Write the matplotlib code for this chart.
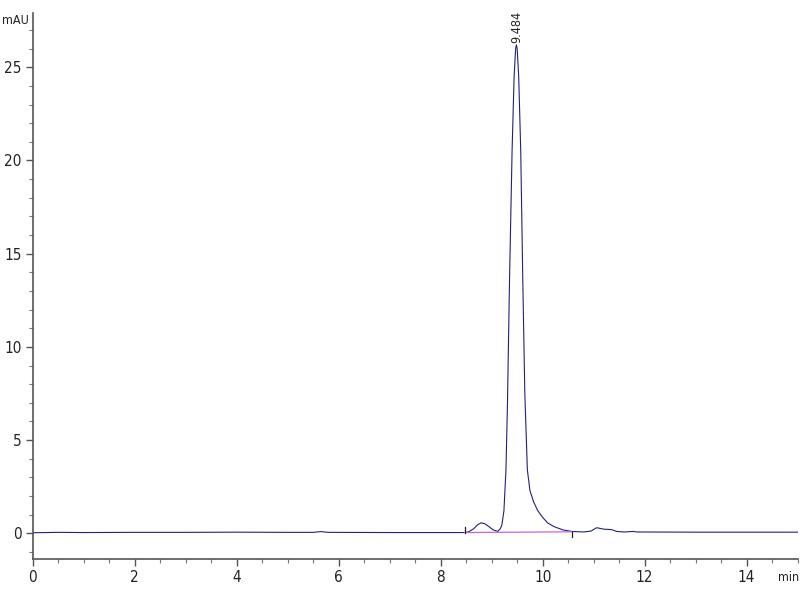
import matplotlib
matplotlib.use("Agg")
import matplotlib.pyplot as plt
from matplotlib.ticker import MultipleLocator

plt.rcParams['font.family'] = ['DejaVu Sans']
plt.rcParams['font.stretch'] = 'condensed'

# signal (min, mAU)
time = [0.0, 0.5, 1.0, 2.0, 3.0, 4.0, 5.0, 5.5, 5.65, 5.8, 7.0, 8.0, 8.47,
        8.55, 8.65, 8.72, 8.79, 8.86, 8.95, 9.03, 9.12, 9.17, 9.20, 9.24,
        9.28, 9.31, 9.35, 9.40, 9.44, 9.47, 9.484, 9.50, 9.53, 9.57, 9.61,
        9.65, 9.70, 9.75, 9.82, 9.90, 10.0, 10.1, 10.23, 10.4, 10.57, 10.8,
        10.95, 11.06, 11.2, 11.35, 11.45, 11.6, 11.78, 11.85, 13.0, 15.0]
signal = [0.03, 0.05, 0.04, 0.05, 0.05, 0.06, 0.05, 0.05, 0.09, 0.05, 0.04, 0.04, 0.04,
          0.08, 0.25, 0.45, 0.56, 0.52, 0.35, 0.18, 0.10, 0.25, 0.45, 1.2,
          3.4, 7.0, 13.6, 20.5, 24.5, 26.0, 26.2, 26.0, 24.5, 20.5, 13.6,
          7.5, 3.4, 2.3, 1.7, 1.23, 0.85, 0.55, 0.35, 0.18, 0.10, 0.07,
          0.12, 0.30, 0.22, 0.20, 0.10, 0.07, 0.10, 0.07, 0.06, 0.06]

peak_rt = 9.484
base_t = [8.47, 10.57]
base_v = [0.04, 0.08]

fig = plt.figure(figsize=(8, 6), dpi=100)
ax = fig.add_axes([0.041, 0.068, 0.956, 0.91])

ax.plot(time, signal, color='#22227a', lw=0.8)
ax.plot(base_t, base_v, color='#c866d8', lw=0.9)
ax.plot([base_t[0], base_t[0]], [0.04, 0.35], color='#222', lw=0.9)
ax.plot([base_t[1], base_t[1]], [-0.2, 0.08], color='#222', lw=0.9)

ax.text(peak_rt, 26.3, '9.484', rotation=90, ha='center', va='bottom',
        fontsize=9, color='#222')

ax.set_xlim(0, 15)
ax.set_ylim(-1.39, 27.9)
ax.xaxis.set_major_locator(MultipleLocator(2))
ax.xaxis.set_minor_locator(MultipleLocator(0.5))
ax.yaxis.set_major_locator(MultipleLocator(5))
ax.yaxis.set_minor_locator(MultipleLocator(1))

for s in ['top', 'right']:
    ax.spines[s].set_visible(False)
for s in ['left', 'bottom']:
    ax.spines[s].set_color('#555555')
    ax.spines[s].set_linewidth(1.2)

ax.tick_params(which='major', length=5, width=1, color='#555555',
               labelsize=11, labelcolor='#222', pad=3)
ax.tick_params(which='minor', length=3, width=0.8, color='#777777')

fig.text(0.003, 0.966, 'mAU', fontsize=9, color='#222', va='center')
fig.text(0.999, 0.038, 'min', fontsize=9, color='#222', va='center', ha='right')

fig.savefig('out.png', dpi=100)
